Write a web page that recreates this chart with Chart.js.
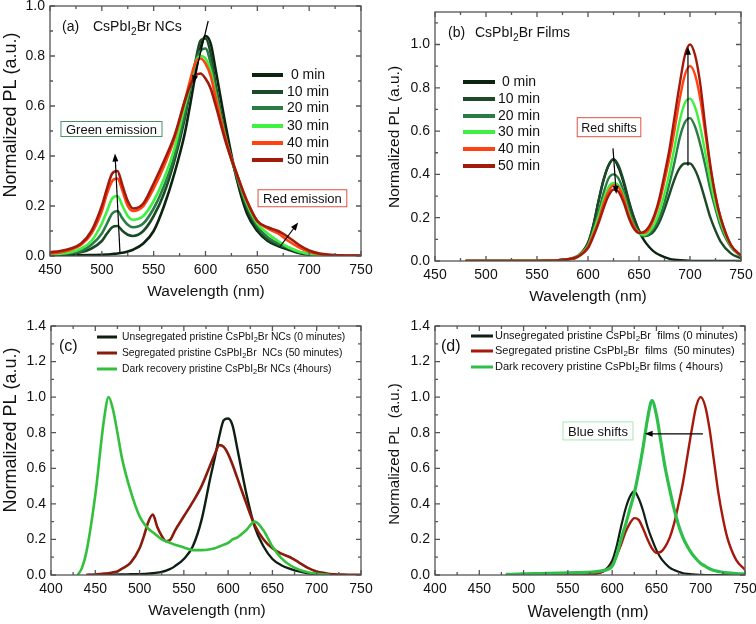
<!DOCTYPE html>
<html>
<head>
<meta charset="utf-8">
<script src="https://cdn.jsdelivr.net/npm/chart.js@4.4.0/dist/chart.umd.min.js"></script>
<style>
  body { margin: 0; background: #fff; width: 756px; height: 624px; position: relative; overflow: hidden; }
  canvas { position: absolute; }
</style>
</head>
<body>
<canvas id="ca" width="378" height="312" style="left:0;top:0"></canvas>
<canvas id="cb" width="378" height="312" style="left:378px;top:0"></canvas>
<canvas id="cc" width="378" height="312" style="left:0;top:312px"></canvas>
<canvas id="cd" width="378" height="312" style="left:378px;top:312px"></canvas>
<script>
'use strict'

// ---- (a) CsPbI2Br NCs, light soaking ----
var aWl = [450,460,470,480,490,500,505,510,515,520,525,530,540,550,560,570,580,585,590,595,600,605,610,620,630,640,650,660,670,680,690,700,710,720,730,740,750];
var a0  = [.003,.003,.003,.003,.004,.005,.006,.008,.01,.013,.018,.025,.05,.1,.2,.33,.49,.6,.72,.83,.88,.85,.74,.51,.31,.17,.1,.06,.04,.025,.012,.005,.002,0,0,0,0];
var a10 = [.004,.006,.01,.015,.03,.06,.09,.115,.12,.1,.085,.08,.1,.16,.25,.38,.55,.66,.77,.86,.87,.81,.68,.47,.32,.19,.11,.065,.045,.03,.015,.007,.002,0,0,0,0];
var a20 = [.005,.008,.012,.02,.045,.09,.13,.17,.18,.15,.125,.115,.13,.19,.28,.4,.57,.67,.77,.82,.83,.77,.66,.46,.32,.2,.12,.075,.05,.032,.016,.008,.003,.001,0,0,0];
var a30 = [.006,.009,.015,.03,.06,.13,.18,.23,.24,.2,.16,.145,.16,.22,.31,.43,.6,.68,.77,.8,.79,.74,.64,.46,.33,.21,.13,.09,.06,.035,.018,.008,.003,.001,0,0,0];
var a40 = [.01,.015,.025,.045,.09,.18,.25,.3,.31,.26,.2,.18,.2,.27,.36,.47,.62,.7,.77,.79,.77,.72,.63,.46,.33,.22,.14,.11,.09,.06,.035,.017,.008,.004,.002,.001,.001];
var a50 = [.015,.02,.03,.05,.1,.2,.27,.33,.34,.28,.22,.19,.21,.29,.38,.48,.62,.68,.72,.73,.71,.67,.6,.45,.33,.22,.14,.115,.1,.075,.045,.022,.01,.005,.003,.002,.002];

// ---- (b) CsPbI2Br films, light soaking ----
var bWl = [480,500,520,540,560,570,580,590,600,605,610,615,620,625,630,635,640,645,650,655,660,665,670,675,680,685,690,695,700,705,710,715,720,725,730,740,750];
var b0  = [0,0,0,0,.001,.003,.008,.02,.08,.16,.27,.37,.44,.47,.43,.36,.27,.2,.14,.095,.065,.042,.028,.018,.01,.006,.004,.002,.001,0,0,0,0,0,0,0,0];
var b10 = [0,0,0,0,.001,.003,.008,.022,.085,.16,.27,.37,.44,.47,.44,.37,.28,.2,.14,.115,.12,.14,.18,.24,.31,.38,.43,.45,.45,.42,.36,.28,.2,.14,.09,.035,.012];
var b20 = [0,0,0,0,.001,.003,.009,.024,.075,.14,.22,.31,.38,.4,.38,.32,.24,.17,.13,.115,.125,.155,.2,.27,.36,.46,.57,.64,.66,.62,.54,.44,.33,.24,.16,.065,.022];
var b30 = [0,0,0,0,.001,.003,.008,.022,.07,.13,.2,.28,.34,.36,.35,.3,.22,.16,.13,.12,.135,.17,.23,.31,.41,.53,.65,.73,.75,.71,.62,.5,.37,.26,.18,.07,.025];
var b40 = [0,0,0,0,.001,.003,.008,.02,.065,.12,.18,.26,.32,.35,.34,.29,.21,.16,.13,.13,.15,.2,.27,.37,.48,.61,.75,.86,.9,.86,.75,.59,.43,.3,.2,.075,.025];
var b50 = [0,0,0,0,.001,.003,.008,.02,.06,.11,.17,.24,.3,.33,.32,.27,.2,.15,.13,.135,.16,.21,.29,.4,.52,.67,.82,.95,1.0,.95,.82,.62,.44,.3,.2,.075,.025];

// ---- (c) NCs: unsegregated / segregated / dark recovery ----
var cWl = [430,435,440,450,460,465,470,475,480,490,500,505,510,515,520,525,530,535,540,550,560,570,580,585,590,595,600,605,610,620,630,640,650,660,670,680,690,700,710,715,720,730,740,750];
var cUnseg = [null,null,0,0,.001,.001,.002,.002,.003,.004,.005,.006,.008,.01,.013,.018,.025,.035,.05,.09,.16,.31,.55,.66,.78,.87,.88,.84,.72,.47,.27,.16,.09,.055,.035,.02,.01,.005,.002,0,null,null,null,null];
var cSeg   = [null,null,0,.003,.008,.01,.015,.02,.035,.07,.15,.22,.3,.34,.27,.22,.19,.2,.25,.33,.41,.5,.62,.68,.73,.72,.68,.62,.55,.41,.28,.2,.15,.12,.1,.07,.04,.02,.01,.006,.004,.002,.001,.001];
var cDark  = [0,.04,.13,.45,.88,1.0,.93,.8,.66,.47,.33,.29,.26,.24,.22,.2,.19,.18,.17,.155,.14,.14,.145,.15,.16,.17,.18,.2,.21,.25,.3,.25,.16,.095,.055,.03,.015,.007,.002,0,null,null,null,null];

// ---- (d) films: unsegregated / segregated / dark recovery ----
var dWl = [480,500,520,540,560,570,580,590,600,605,610,615,620,625,630,635,640,645,650,655,660,665,670,675,680,685,690,695,700,705,710,715,720,725,730,740,750];
var dUnseg = [0,0,0,0,.001,.003,.008,.02,.08,.16,.27,.37,.44,.47,.43,.36,.27,.2,.14,.095,.065,.042,.028,.018,.01,.006,.004,.002,.001,0,0,0,0,0,0,0,0];
var dSeg   = [0,0,0,0,.001,.003,.008,.02,.06,.11,.17,.24,.29,.32,.31,.26,.2,.15,.125,.13,.16,.21,.29,.4,.52,.67,.82,.95,1.0,.95,.82,.64,.46,.32,.21,.085,.03];
var dDark  = [.003,.006,.008,.01,.013,.015,.018,.025,.05,.11,.2,.28,.37,.46,.58,.72,.88,.98,.9,.75,.6,.48,.37,.28,.21,.16,.12,.09,.065,.05,.035,.025,.02,.015,.012,.008,.005];

// labels and ticks
var timeLabels = [' 0 min', '10 min', '20 min', '30 min', '40 min', '50 min'];
var cLabels = ['Unsegregated pristine CsPbI_2Br NCs (0 minutes)', 'Segregated pristine CsPbI_2Br  NCs (50 minutes)', 'Dark recovery pristine CsPbI_2Br NCs (4hours)'];
var dLabels = ['Unsegregated pristine CsPbI_2Br  films (0 minutes)', 'Segregated pristine CsPbI_2Br  films  (50 minutes)', 'Dark recovery pristine CsPbI_2Br films ( 4hours)'];
var xTicksAB = [450, 500, 550, 600, 650, 700, 750];
var xTicksCD = [400, 450, 500, 550, 600, 650, 700, 750];
var yTicksAB = [0, 0.2, 0.4, 0.6, 0.8, 1.0];
var yTicksCD = [0, 0.2, 0.4, 0.6, 0.8, 1.0, 1.2, 1.4];

var timeColors = ['#0b2410', '#1c4a27', '#2a7c45', '#3ef040', '#ff4210', '#a3190a'];
var FONT = '"Liberation Sans", Arial, Helvetica, sans-serif';

// text with "_2" style subscripts
function drawRich(ctx, str, x, y, size, align) {
  var parts = str.split(/_(\d)/);
  var sub = size * 0.72, w = 0;
  parts.forEach(function(p, i) {
    ctx.font = (i % 2 ? sub : size) + 'px ' + FONT;
    w += ctx.measureText(p).width;
  });
  var cx = align === 'center' ? x - w / 2 : x;
  ctx.textAlign = 'left';
  parts.forEach(function(p, i) {
    ctx.font = (i % 2 ? sub : size) + 'px ' + FONT;
    ctx.fillText(p, cx, y + (i % 2 ? size * 0.3 : 0));
    cx += ctx.measureText(p).width;
  });
}

var deco = {};

var decoPlugin = {
  id: 'deco',
  afterDatasetsDraw: function(chart) {
    var o = deco[chart.canvas.id];
    var ctx = chart.ctx, a = chart.chartArea, xs = chart.scales.x, ys = chart.scales.y;
    ctx.save();
    ctx.strokeStyle = '#555';
    ctx.lineWidth = 1.3;
    ctx.strokeRect(a.left, a.top, a.right - a.left, a.bottom - a.top);

    // inward major / minor ticks on all four sides
    var n, i, v, len, p;
    n = Math.round((xs.max - xs.min) / o.xMinor);
    for (i = 0; i <= n; i++) {
      v = xs.min + i * o.xMinor;
      len = o.xTicks.some(function(t) { return Math.abs(t - v) < 1e-6; }) ? 5 : 3;
      p = xs.getPixelForValue(v);
      ctx.beginPath();
      ctx.moveTo(p, a.bottom); ctx.lineTo(p, a.bottom - len);
      ctx.moveTo(p, a.top); ctx.lineTo(p, a.top + len);
      ctx.stroke();
    }
    n = Math.floor((ys.max - ys.min) / o.yMinor + 1e-6);
    for (i = 0; i <= n; i++) {
      v = ys.min + i * o.yMinor;
      len = o.yTicks.some(function(t) { return Math.abs(t - v) < 1e-6; }) ? 5 : 3;
      p = ys.getPixelForValue(v);
      ctx.beginPath();
      ctx.moveTo(a.left, p); ctx.lineTo(a.left + len, p);
      ctx.moveTo(a.right, p); ctx.lineTo(a.right - len, p);
      ctx.stroke();
    }

    ctx.fillStyle = '#111';
    ctx.textBaseline = 'alphabetic';

    // panel labels
    o.texts.forEach(function(t) { drawRich(ctx, t.text, t.x, t.y, t.size, 'left'); });

    // axis titles
    drawRich(ctx, o.xTitle.text, o.xTitle.x, o.xTitle.y, o.xTitle.size, 'center');
    ctx.save();
    ctx.translate(o.yTitle.x, o.yTitle.y);
    ctx.rotate(-Math.PI / 2);
    ctx.textBaseline = 'middle';
    drawRich(ctx, o.yTitle.text, 0, 0, o.yTitle.size, 'center');
    ctx.restore();

    // legend
    var L = o.legend;
    ctx.textBaseline = 'middle';
    chart.data.datasets.forEach(function(ds, k) {
      var y = L.rows[k];
      ctx.strokeStyle = ds.borderColor;
      ctx.lineWidth = L.lw;
      ctx.beginPath(); ctx.moveTo(L.x1, y); ctx.lineTo(L.x2, y); ctx.stroke();
      ctx.fillStyle = '#111';
      drawRich(ctx, ds.label, L.tx, y, L.size, 'left');
    });

    // boxed notes
    (o.boxes || []).forEach(function(b) {
      var cx = xs.getPixelForValue(b.x), cy = ys.getPixelForValue(b.y);
      ctx.font = b.size + 'px ' + FONT;
      var w = ctx.measureText(b.text).width + 2 * b.padX, h = b.h;
      ctx.fillStyle = '#fff';
      ctx.fillRect(cx - w / 2, cy - h / 2, w, h);
      ctx.strokeStyle = b.color; ctx.lineWidth = 1;
      ctx.strokeRect(cx - w / 2, cy - h / 2, w, h);
      ctx.fillStyle = '#111';
      ctx.textAlign = 'center'; ctx.textBaseline = 'middle';
      ctx.fillText(b.text, cx, cy + 1);
    });

    // arrows
    (o.arrows || []).forEach(function(r) {
      var x1 = xs.getPixelForValue(r[0]), y1 = ys.getPixelForValue(r[1]);
      var x2 = xs.getPixelForValue(r[2]), y2 = ys.getPixelForValue(r[3]);
      var ang = Math.atan2(y2 - y1, x2 - x1);
      ctx.strokeStyle = '#000'; ctx.fillStyle = '#000'; ctx.lineWidth = 1.2;
      ctx.beginPath(); ctx.moveTo(x1, y1); ctx.lineTo(x2 - 5 * Math.cos(ang), y2 - 5 * Math.sin(ang)); ctx.stroke();
      ctx.beginPath();
      ctx.moveTo(x2, y2);
      ctx.lineTo(x2 - 8 * Math.cos(ang) + 3 * Math.sin(ang), y2 - 8 * Math.sin(ang) - 3 * Math.cos(ang));
      ctx.lineTo(x2 - 8 * Math.cos(ang) - 3 * Math.sin(ang), y2 - 8 * Math.sin(ang) + 3 * Math.cos(ang));
      ctx.closePath(); ctx.fill();
    });
    ctx.restore();
  }
};

function panel(id, wl, series, labels, colors, widths, order, cfg) {
  deco[id] = cfg;
  var datasets = series.map(function(vals, i) {
    return {
      label: labels[i],
      data: wl.map(function(x, j) { return { x: x, y: vals[j] }; }),
      borderColor: colors[i],
      borderWidth: widths[i],
      pointRadius: 0,
      cubicInterpolationMode: 'monotone',
      order: order[i]
    };
  });
  return new Chart(document.getElementById(id), {
    type: 'line',
    data: { datasets: datasets },
    options: {
      responsive: false,
      animation: false,
      devicePixelRatio: 1,
      events: [],
      layout: { padding: { top: cfg.area.top, right: cfg.area.right, left: 0, bottom: 0 } },
      plugins: { legend: { display: false }, tooltip: { enabled: false } },
      scales: {
        x: {
          type: 'linear', min: cfg.xMin, max: cfg.xMax,
          afterBuildTicks: function(s) { s.ticks = cfg.xTicks.map(function(v) { return { value: v }; }); },
          afterFit: function(s) { s.height = cfg.area.bottom; s.paddingLeft = 0; s.paddingRight = 0; },
          grid: { display: false, drawTicks: false },
          border: { display: false },
          ticks: { font: { family: FONT, size: 14 }, color: '#111', padding: 6, maxRotation: 0, autoSkip: false,
                   callback: function(v) { return String(v); } }
        },
        y: {
          type: 'linear', min: cfg.yMin, max: cfg.yMax,
          afterBuildTicks: function(s) { s.ticks = cfg.yTicks.map(function(v) { return { value: v }; }); },
          afterFit: function(s) { s.width = cfg.area.left; s.paddingTop = 0; s.paddingBottom = 0; },
          grid: { display: false, drawTicks: false },
          border: { display: false },
          ticks: { font: { family: FONT, size: 14 }, color: '#111', padding: 5,
                   callback: function(v) { return v.toFixed(1); } }
        }
      }
    },
    plugins: [decoPlugin]
  });
}

panel('ca', aWl, [a0, a10, a20, a30, a40, a50], timeLabels, timeColors, [2.6, 2.6, 2.6, 2.6, 2.6, 2.6], [5, 4, 3, 2, 1, 0], {
  area: { left: 50, right: 17, top: 6, bottom: 56 },
  xMin: 450, xMax: 750, yMin: 0, yMax: 1.0, xTicks: xTicksAB, yTicks: yTicksAB, xMinor: 25, yMinor: 0.1,
  texts: [{ text: '(a)', x: 62, y: 31, size: 14 }, { text: 'CsPbI_2Br NCs', x: 93, y: 31, size: 14 }],
  xTitle: { text: 'Wavelength (nm)', x: 206, y: 296, size: 15.5 },
  yTitle: { text: 'Normalized PL (a.u.)', x: 11, y: 115, size: 18 },
  legend: { x1: 252, x2: 283, tx: 287, rows: [75, 92, 108, 126, 143, 160], lw: 4, size: 14 },
  boxes: [
    { text: 'Green emission', x: 509.3, y: 0.508, size: 13, padX: 5, h: 15, color: '#4c8f6a' },
    { text: 'Red emission', x: 693.5, y: 0.231, size: 13, padX: 5, h: 17, color: '#e0533f' }
  ],
  arrows: [[517.5, 0.012, 512.7, 0.41], [602.6, 0.94, 588.1, 0.69], [671.8, 0.037, 689.4, 0.134]]
});

panel('cb', bWl, [b0, b10, b20, b30, b40, b50], timeLabels, timeColors, [2.4, 2.4, 2.4, 2.4, 2.4, 2.4], [5, 4, 3, 2, 1, 0], {
  area: { left: 57, right: 15, top: 12, bottom: 51 },
  xMin: 450, xMax: 750, yMin: 0, yMax: 1.15, xTicks: xTicksAB, yTicks: yTicksAB, xMinor: 25, yMinor: 0.1,
  texts: [{ text: '(b)', x: 70, y: 37, size: 14 }, { text: 'CsPbI_2Br Films', x: 97, y: 37, size: 14 }],
  xTitle: { text: 'Wavelength (nm)', x: 210, y: 301, size: 15.5 },
  yTitle: { text: 'Normalized PL (a.u.)', x: 17, y: 137, size: 15.5 },
  legend: { x1: 85, x2: 117, tx: 120, rows: [82, 99, 116, 132, 149, 166], lw: 4, size: 14 },
  boxes: [{ text: 'Red shifts', x: 620.6, y: 0.618, size: 12.5, padX: 4, h: 19, color: '#e0533f' }],
  arrows: [[624.5, 0.52, 627.7, 0.31], [698, 0.44, 698, 0.99]]
});

panel('cc', cWl, [cUnseg, cSeg, cDark], cLabels, ['#0e1f12', '#8a1a0c', '#33c13d'], [2.4, 2.6, 2.6], [2, 1, 0], {
  area: { left: 51, right: 17, top: 14, bottom: 49 },
  xMin: 400, xMax: 750, yMin: 0, yMax: 1.4, xTicks: xTicksCD, yTicks: yTicksCD, xMinor: 25, yMinor: 0.1,
  texts: [{ text: '(c)', x: 59, y: 39, size: 16 }],
  xTitle: { text: 'Wavelength (nm)', x: 207, y: 303, size: 15.5 },
  yTitle: { text: 'Normalized PL (a.u.)', x: 11, y: 118, size: 18 },
  legend: { x1: 97, x2: 117, tx: 122, rows: [25, 41, 57], lw: 3, size: 10.3 },
  boxes: [],
  arrows: []
});

panel('cd', dWl, [dUnseg, dSeg, dDark], dLabels, ['#0f1f14', '#a6180c', '#2dbf4a'], [2.2, 2.4, 3.2], [2, 1, 0], {
  area: { left: 57, right: 11, top: 14, bottom: 49 },
  xMin: 400, xMax: 750, yMin: 0, yMax: 1.4, xTicks: xTicksCD, yTicks: yTicksCD, xMinor: 25, yMinor: 0.1,
  texts: [{ text: '(d)', x: 63, y: 39, size: 16 }],
  xTitle: { text: 'Wavelength (nm)', x: 210, y: 305, size: 16 },
  yTitle: { text: 'Normalized PL  (a.u.)', x: 17, y: 142, size: 15 },
  legend: { x1: 93, x2: 115, tx: 117, rows: [24, 39, 55], lw: 3, size: 11 },
  boxes: [{ text: 'Blue shifts', x: 584, y: 0.81, size: 13, padX: 5, h: 18, color: '#a5e8b5' }],
  arrows: [[702.5, 0.794, 636.7, 0.794]]
});
</script>
</body>
</html>
